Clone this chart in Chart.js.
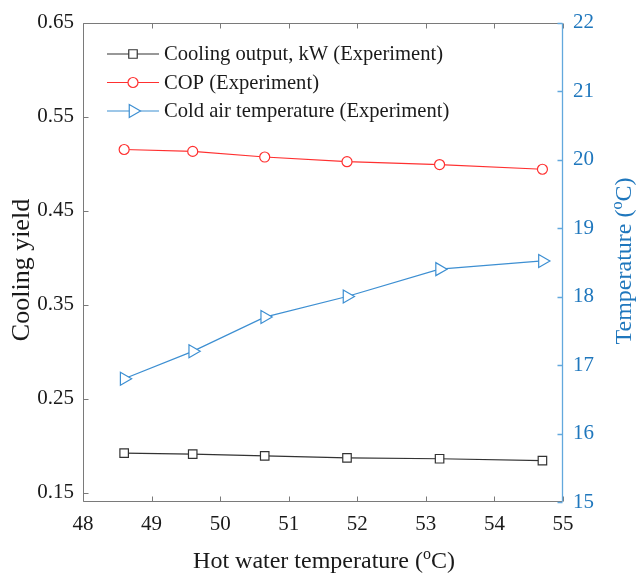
<!DOCTYPE html>
<html>
<head>
<meta charset="utf-8">
<script src="https://cdn.jsdelivr.net/npm/chart.js@4"></script>
<style>
html, body { margin: 0; padding: 0; background: #fff; }
</style>
</head>
<body>
<canvas id="graph" width="636" height="577"></canvas>
<script>
var hotWater = [48.6, 49.6, 50.65, 51.85, 53.2, 54.7];
var coolingOutput = [0.192, 0.191, 0.189, 0.187, 0.186, 0.184];
var cop = [0.515, 0.513, 0.507, 0.502, 0.499, 0.494];
var coldAir = [16.8, 17.2, 17.7, 18.0, 18.4, 18.52];
var xTicks = [48, 49, 50, 51, 52, 53, 54, 55];
var leftTicks = [0.15, 0.25, 0.35, 0.45, 0.55, 0.65];
var rightTicks = [15, 16, 17, 18, 19, 20, 21, 22];
var seriesNames = ["Cooling output, kW (Experiment)", "COP (Experiment)", "Cold air temperature (Experiment)"];

var FONT = "'Liberation Serif', 'Times New Roman', serif";
var BLUE_TEXT = "#1f77bd";
var BLUE_AXIS = "#62a8dd";
var BLUE_LINE = "#3d8fd2";
var GRAY_AXIS = "#7a7a7a";

function toPoints(xs, ys) {
    return xs.map(function(x, i) { return { x: x, y: ys[i] }; });
}

function drawMarker(ctx, style, r, rot, x, y, color) {
    ctx.save();
    ctx.strokeStyle = color;
    ctx.fillStyle = "#fff";
    ctx.lineWidth = 1.2;
    if (Chart.helpers && Chart.helpers.drawPoint) {
        Chart.helpers.drawPoint(ctx, { pointStyle: style, radius: r, rotation: rot, borderWidth: 1.2 }, x, y);
    }
    ctx.restore();
}

// superscript "o" in the axis titles
function supText(ctx, before, after, size, cx, cy) {
    var sup = Math.round(size * 0.68);
    ctx.font = size + "px " + FONT;
    var w1 = ctx.measureText(before).width;
    var w3 = ctx.measureText(after).width;
    ctx.font = sup + "px " + FONT;
    var w2 = ctx.measureText("o").width;
    var x = cx - (w1 + w2 + w3) / 2;
    ctx.textBaseline = "alphabetic";
    ctx.textAlign = "left";
    var base = cy + size * 0.33;
    ctx.font = size + "px " + FONT;
    ctx.fillText(before, x, base);
    ctx.font = sup + "px " + FONT;
    ctx.fillText("o", x + w1, base - size * 0.38);
    ctx.font = size + "px " + FONT;
    ctx.fillText(after, x + w1 + w2, base);
}

var axesBox = {
    id: "axesBox",
    afterDatasetsDraw: function(chart) {
        var ctx = chart.ctx, a = chart.chartArea;
        var sx = chart.scales.x, sy = chart.scales.y, sy1 = chart.scales.y1;
        var L = Math.round(a.left) + 0.5, R = Math.round(a.right) - 0.5;
        var T = Math.round(a.top) + 0.5, B = Math.round(a.bottom) - 0.5;
        ctx.save();
        ctx.lineWidth = 1;
        ctx.strokeStyle = GRAY_AXIS;
        ctx.beginPath();
        ctx.moveTo(R, T); ctx.lineTo(L, T); ctx.lineTo(L, B); ctx.lineTo(R, B);
        xTicks.forEach(function(v) {
            var px = Math.round(sx.getPixelForValue(v)) + 0.5;
            ctx.moveTo(px, B); ctx.lineTo(px, B - 5);
            ctx.moveTo(px, T); ctx.lineTo(px, T + 5);
        });
        leftTicks.forEach(function(v) {
            var py = Math.round(sy.getPixelForValue(v)) + 0.5;
            ctx.moveTo(L, py); ctx.lineTo(L + 5, py);
        });
        ctx.stroke();
        ctx.strokeStyle = BLUE_AXIS;
        ctx.lineWidth = 1.3;
        ctx.beginPath();
        ctx.moveTo(R, T); ctx.lineTo(R, B);
        rightTicks.forEach(function(v) {
            var py = Math.round(sy1.getPixelForValue(v)) + 0.5;
            ctx.moveTo(R, py); ctx.lineTo(R - 5, py);
        });
        ctx.stroke();
        ctx.restore();
    },
    afterDraw: function(chart) {
        var ctx = chart.ctx, a = chart.chartArea;
        ctx.save();
        // legend
        var rows = [54, 82.5, 111];
        chart.data.datasets.forEach(function(ds, i) {
            var y = rows[i];
            ctx.strokeStyle = ds.borderColor;
            ctx.lineWidth = 1.2;
            ctx.beginPath();
            ctx.moveTo(107, y); ctx.lineTo(159, y);
            ctx.stroke();
            drawMarker(ctx, ds.pointStyle, ds.pointRadius, ds.pointRotation || 0, 133, y, ds.pointBorderColor);
            ctx.fillStyle = "#1a1a1a";
            ctx.font = "20.6px " + FONT;
            ctx.textAlign = "left";
            ctx.textBaseline = "middle";
            ctx.fillText(ds.label, 164, y + 1);
        });
        // axis titles
        ctx.fillStyle = "#1a1a1a";
        supText(ctx, "Hot water temperature (", "C)", 24, (a.left + a.right) / 2 + 1, 560);
        ctx.save();
        ctx.translate(22, 270);
        ctx.rotate(-Math.PI / 2);
        ctx.font = "26px " + FONT;
        ctx.textAlign = "center";
        ctx.textBaseline = "middle";
        ctx.fillText("Cooling yield", 0, 0);
        ctx.restore();
        ctx.save();
        ctx.fillStyle = BLUE_TEXT;
        ctx.translate(623, 261);
        ctx.rotate(-Math.PI / 2);
        supText(ctx, "Temperature (", "C)", 24, 0, 0);
        ctx.restore();
        ctx.restore();
    }
};

document.addEventListener("DOMContentLoaded", function() {
    var ctx = document.getElementById("graph").getContext("2d");

    var data = {
        datasets: [{
            label: seriesNames[0],
            data: toPoints(hotWater, coolingOutput),
            yAxisID: "y",
            borderColor: "#333333",
            borderWidth: 1.2,
            pointStyle: "rect",
            pointRadius: 6,
            pointBorderWidth: 1.2,
            pointBorderColor: "#333333",
            pointBackgroundColor: "#ffffff",
            fill: false,
            tension: 0
        }, {
            label: seriesNames[1],
            data: toPoints(hotWater, cop),
            yAxisID: "y",
            borderColor: "#ff3030",
            borderWidth: 1.2,
            pointStyle: "circle",
            pointRadius: 5,
            pointBorderWidth: 1.2,
            pointBorderColor: "#ff3030",
            pointBackgroundColor: "#ffffff",
            fill: false,
            tension: 0
        }, {
            label: seriesNames[2],
            data: toPoints(hotWater, coldAir),
            yAxisID: "y1",
            borderColor: BLUE_LINE,
            borderWidth: 1.2,
            pointStyle: "triangle",
            pointRotation: 90,
            pointRadius: 7.5,
            pointBorderWidth: 1.2,
            pointBorderColor: BLUE_LINE,
            pointBackgroundColor: "#ffffff",
            fill: false,
            tension: 0
        }]
    };

    var options = {
        responsive: false,
        animation: false,
        layout: { padding: { top: 21, left: 0, right: 0, bottom: 0 } },
        plugins: { legend: { display: false }, tooltip: { enabled: false } },
        scales: {
            x: {
                type: "linear",
                min: 48,
                max: 55,
                grid: { display: false, drawTicks: false },
                border: { display: false },
                afterBuildTicks: function(s) { s.ticks = xTicks.map(function(v) { return { value: v }; }); },
                afterFit: function(s) { s.height = 75; },
                ticks: {
                    padding: 10,
                    color: "#1a1a1a",
                    font: { family: FONT, size: 21 },
                    maxRotation: 0,
                    callback: function(v) { return String(v); }
                }
            },
            y: {
                position: "left",
                min: 0.14,
                max: 0.65,
                grid: { display: false, drawTicks: false },
                border: { display: false },
                afterBuildTicks: function(s) { s.ticks = leftTicks.map(function(v) { return { value: v }; }); },
                afterFit: function(s) { s.width = 83; },
                ticks: {
                    padding: 9,
                    color: "#1a1a1a",
                    font: { family: FONT, size: 21 },
                    callback: function(v) { return Number(v).toFixed(2); }
                }
            },
            y1: {
                position: "right",
                min: 15,
                max: 22,
                grid: { display: false, drawTicks: false },
                border: { display: false },
                afterBuildTicks: function(s) { s.ticks = rightTicks.map(function(v) { return { value: v }; }); },
                afterFit: function(s) { s.width = 73; },
                ticks: {
                    padding: 10,
                    color: BLUE_TEXT,
                    font: { family: FONT, size: 21 },
                    callback: function(v) { return String(v); }
                }
            }
        }
    };

    new Chart(ctx, {
        type: "line",
        data: data,
        options: options,
        plugins: [axesBox]
    });
});
</script>
</body>
</html>
